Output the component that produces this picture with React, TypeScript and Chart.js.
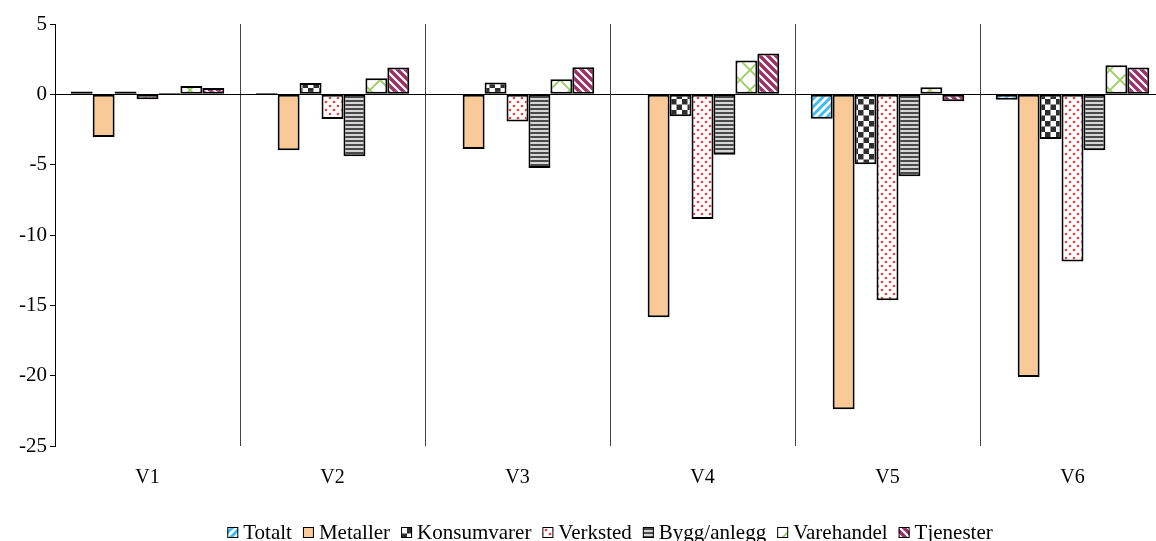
import { useEffect, useRef } from 'react';
import { Chart, registerables } from 'chart.js';

Chart.register(...registerables);

// Periods on the category axis
const categories = ['V1', 'V2', 'V3', 'V4', 'V5', 'V6'];

// Change per sector and period (null = no bar)
const totalt = [0.2, 0.1, null, null, -1.73, -0.38];
const metaller = [-3.03, -3.98, -3.89, -15.85, -22.39, -20.09];
const konsumvarer = [0.2, 0.8, 0.85, -1.56, -4.97, -3.17];
const verksted = [-0.35, -1.75, -1.94, -8.86, -14.64, -11.89];
const byggAnlegg = [0.1, -4.4, -5.24, -4.3, -5.83, -3.98];
const varehandel = [0.6, 1.15, 1.07, 2.4, 0.5, 2.06];
const tjenester = [0.45, 1.9, 1.92, 2.9, -0.5, 1.9];

const seriesLabels = ['Totalt', 'Metaller', 'Konsumvarer', 'Verksted', 'Bygg/anlegg', 'Varehandel', 'Tjenester'];

// Value axis
const yMin = -25;
const yMax = 5;
const yStep = 5;

const FONT = '"Liberation Serif", "Times New Roman", serif';

function makePattern(w: number, h: number, draw: (g: CanvasRenderingContext2D) => void): CanvasPattern | string {
  const c = document.createElement('canvas');
  c.width = w;
  c.height = h;
  const g = c.getContext('2d');
  if (!g) return '#ccc';
  draw(g);
  return g.createPattern(c, 'repeat') || '#ccc';
}

function diagonal(color: string, size: number, width: number, up: boolean) {
  return makePattern(size, size, (g) => {
    g.fillStyle = '#fff';
    g.fillRect(0, 0, size, size);
    g.strokeStyle = color;
    g.lineWidth = width;
    g.lineCap = 'square';
    for (let k = -1; k <= 1; k++) {
      g.beginPath();
      if (up) {
        g.moveTo(k * size, size);
        g.lineTo(k * size + size, 0);
      } else {
        g.moveTo(k * size, 0);
        g.lineTo(k * size + size, size);
      }
      g.stroke();
    }
  });
}

function buildFills() {
  const blueStripes = diagonal('#3dbdf0', 8, 3, true);
  const peach = '#f9ca98';
  const checker = makePattern(11, 11, (g) => {
    g.fillStyle = '#fff';
    g.fillRect(0, 0, 11, 11);
    g.fillStyle = '#2e2e2e';
    g.fillRect(0, 0, 5.5, 5.5);
    g.fillRect(5.5, 5.5, 5.5, 5.5);
  });
  const dots = makePattern(8, 8, (g) => {
    g.fillStyle = '#fff';
    g.fillRect(0, 0, 8, 8);
    g.fillStyle = '#f03c3c';
    g.beginPath();
    g.arc(2, 2, 1.3, 0, Math.PI * 2);
    g.fill();
    g.beginPath();
    g.arc(6, 6, 1.3, 0, Math.PI * 2);
    g.fill();
  });
  const hStripes = makePattern(4, 4, (g) => {
    g.fillStyle = '#d6d6d6';
    g.fillRect(0, 0, 4, 4);
    g.fillStyle = '#4a4a4a';
    g.fillRect(0, 0, 4, 2);
  });
  const lattice = makePattern(20, 20, (g) => {
    g.fillStyle = '#fff';
    g.fillRect(0, 0, 20, 20);
    g.strokeStyle = '#9ccc5c';
    g.lineWidth = 1.8;
    g.beginPath();
    g.moveTo(0, 0);
    g.lineTo(20, 20);
    g.moveTo(20, 0);
    g.lineTo(0, 20);
    g.stroke();
  });
  const magentaStripes = diagonal('#993366', 8, 3.5, false);
  return [blueStripes, peach, checker, dots, hStripes, lattice, magentaStripes];
}

// Legend drawn in a single row under the axis labels
const bottomLegend = {
  id: 'bottomLegend',
  afterDraw(chart: Chart) {
    const ctx = chart.ctx;
    const box = 11;
    const textGap = 5;
    const itemGap = 11;
    const centerX = 610;
    const baseline = 539;
    ctx.save();
    ctx.font = `21px ${FONT}`;
    const items = chart.data.datasets.map((ds) => ({
      label: String(ds.label),
      fill: ds.backgroundColor as any,
      w: ctx.measureText(String(ds.label)).width,
    }));
    const total = items.reduce((s, it) => s + box + textGap + it.w, 0) + itemGap * (items.length - 1);
    let x = centerX - total / 2;
    items.forEach((it) => {
      ctx.fillStyle = it.fill;
      ctx.fillRect(x, 527, box, box);
      ctx.strokeStyle = '#000';
      ctx.lineWidth = 1;
      ctx.strokeRect(x + 0.5, 527.5, box - 1, box - 1);
      x += box + textGap;
      ctx.fillStyle = '#000';
      ctx.textBaseline = 'alphabetic';
      ctx.textAlign = 'left';
      ctx.fillText(it.label, x, baseline);
      x += it.w + itemGap;
    });
    ctx.restore();
  },
};

export default function App() {
  const ref = useRef<HTMLCanvasElement>(null);

  useEffect(() => {
    if (!ref.current) return;
    const fills = buildFills();
    const values = [totalt, metaller, konsumvarer, verksted, byggAnlegg, varehandel, tjenester];
    const chart = new Chart(ref.current, {
      type: 'bar',
      data: {
        labels: categories,
        datasets: values.map((v, i) => ({
          label: seriesLabels[i],
          data: v,
          backgroundColor: fills[i] as any,
          borderColor: '#000',
          borderWidth: 2,
          borderSkipped: false,
          categoryPercentage: 0.83,
          barPercentage: 1,
        })),
      },
      options: {
        responsive: false,
        animation: false,
        layout: { padding: { top: 24, right: 55, left: 0, bottom: 35 } },
        plugins: {
          legend: { display: false },
          tooltip: { enabled: false },
        },
        scales: {
          x: {
            afterFit: (scale: any) => {
              scale.height = 60;
            },
            border: { display: false },
            grid: {
              offset: true,
              color: '#444',
              lineWidth: 1,
              drawTicks: false,
            },
            ticks: {
              color: '#000',
              padding: 20,
              font: { family: FONT, size: 20 },
            },
          },
          y: {
            min: yMin,
            max: yMax,
            afterFit: (scale: any) => {
              scale.width = 55;
            },
            border: { display: true, color: '#000', width: 1 },
            grid: {
              color: (c: any) => (c.tick && c.tick.value === 0 ? '#000' : 'rgba(0,0,0,0)'),
              tickColor: '#000',
              tickLength: 5,
              lineWidth: 1,
            },
            ticks: {
              stepSize: yStep,
              color: '#000',
              padding: 3,
              font: { family: FONT, size: 21 },
            },
          },
        },
      },
      plugins: [bottomLegend],
    });
    return () => chart.destroy();
  }, []);

  return (
    <div
      style={{
        position: 'fixed',
        left: 0,
        top: 0,
        width: 1156,
        height: 541,
        overflow: 'hidden',
        background: '#fff',
      }}
    >
      <canvas ref={ref} width={1220} height={541} style={{ display: 'block', width: 1220, height: 541 }} />
    </div>
  );
}
